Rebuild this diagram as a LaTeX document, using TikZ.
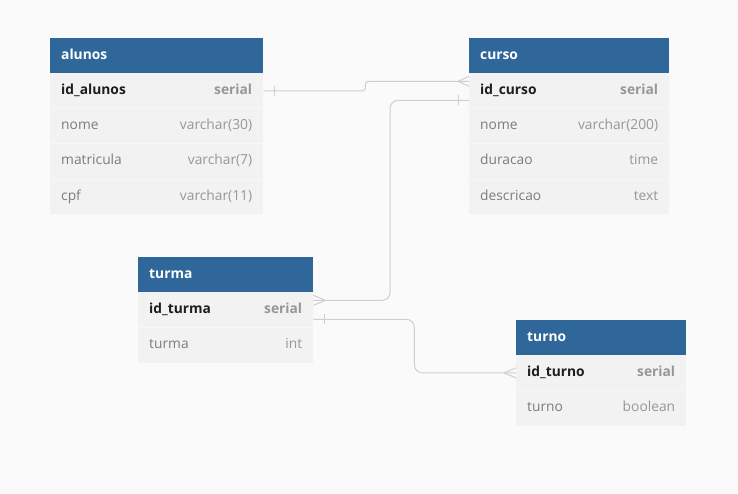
\documentclass[tikz,border=0pt]{standalone}
\usepackage{fontspec}
\setmainfont{Open Sans}
\definecolor{hdrblue}{HTML}{30679A}
\definecolor{rowbg}{HTML}{F2F2F2}
\definecolor{pagebg}{HTML}{FAFAFA}
\definecolor{sepc}{HTML}{F7F7F7}
\definecolor{conncol}{HTML}{CFCFCF}
\definecolor{idcol}{HTML}{1E1E1E}
\definecolor{fcol}{HTML}{7C7C7C}
\definecolor{tcol}{HTML}{979797}
\tikzset{
  hdr/.style={fill=hdrblue, minimum height=35pt, anchor=north west, inner sep=0pt, draw=none},
  rowbox/.style={fill=rowbg, minimum height=35.3pt, anchor=north west, inner sep=0pt, draw=none},
  htext/.style={text=white, font=\fontsize{13.8}{16}\selectfont\bfseries, inner sep=0pt, anchor=base west},
  idtext/.style={text=idcol, font=\fontsize{13.8}{16}\selectfont\bfseries, inner sep=0pt, anchor=base west},
  ftext/.style={text=fcol, font=\fontsize{13.8}{16}\selectfont, inner sep=0pt, anchor=base west},
  idtype/.style={text=tcol, font=\fontsize{13.8}{16}\selectfont\bfseries, inner sep=0pt, anchor=base east},
  ftype/.style={text=tcol, font=\fontsize{13.8}{16}\selectfont, inner sep=0pt, anchor=base east},
  conn/.style={draw=conncol, line width=1pt},
}
\newcommand\ertable[6]{%
  \node[hdr, minimum width=#4] (#1) at (#2,#3) {};
  \node[htext] at ([xshift=11pt,yshift=-3.4pt]#1.west) {#5};
  \foreach \fld/\ty [count=\i] in {#6} {
    \ifnum\i=1 \def\fst{idtext}\def\snd{idtype}\else\def\fst{ftext}\def\snd{ftype}\fi
    \node[rowbox, minimum width=#4] (#1-\i) at (#2,{#3+35+(\i-1)*35.3}) {};
    \ifnum\i>1 \draw[sepc, line width=0.8pt] (#1-\i.north west) -- (#1-\i.north east);\fi
    \node[\fst] at ([xshift=11pt,yshift=-3.4pt]#1-\i.west) {\fld};
    \node[\snd] at ([xshift=-11pt,yshift=-3.4pt]#1-\i.east) {\ty};
  }
}
\begin{document}
\begin{tikzpicture}[x=1pt,y=-1pt]
\fill[pagebg] (0,0) rectangle (738,493);
\useasboundingbox (0,0) rectangle (738,493);

\ertable{alunos}{50}{38}{213pt}{alunos}{id\_alunos/serial, nome/varchar(30), matricula/varchar(7), cpf/varchar(11)}
\ertable{curso}{469}{38}{200pt}{curso}{id\_curso/serial, nome/varchar(200), duracao/time, descricao/text}
\ertable{turma}{138}{257}{175pt}{turma}{id\_turma/serial, turma/int}
\ertable{turno}{516}{320}{170pt}{turno}{id\_turno/serial, turno/boolean}

% alunos -> curso
\coordinate (c1) at ([yshift=9.5pt]curso-1.west);
\draw[conn, rounded corners=3pt] (alunos-1.east) -- ++(102,0) |- (c1);
\draw[conn] ([xshift=11pt,yshift=-5pt]alunos-1.east) -- ([xshift=11pt,yshift=5pt]alunos-1.east);
\draw[conn] ([xshift=-11pt]c1) -- ([yshift=5pt]c1);
\draw[conn] ([xshift=-11pt]c1) -- ([yshift=-5pt]c1);

% curso -> turma
\coordinate (c2) at ([yshift=-9.5pt]curso-1.west);
\coordinate (t1) at ([yshift=9.5pt]turma-1.east);
\draw[conn, rounded corners=8pt] (c2) -- ++(-79,0) |- (t1);
\draw[conn] ([xshift=-11pt,yshift=-5pt]c2) -- ([xshift=-11pt,yshift=5pt]c2);
\draw[conn] ([xshift=12pt]t1) -- ([yshift=5pt]t1);
\draw[conn] ([xshift=12pt]t1) -- ([yshift=-5pt]t1);

% turma -> turno
\coordinate (t2) at ([yshift=-9.5pt]turma-1.east);
\draw[conn, rounded corners=8pt] (t2) -- ++(101,0) |- (turno-1.west);
\draw[conn] ([xshift=11pt,yshift=-5pt]t2) -- ([xshift=11pt,yshift=5pt]t2);
\draw[conn] ([xshift=-12pt]turno-1.west) -- ([yshift=5pt]turno-1.west);
\draw[conn] ([xshift=-12pt]turno-1.west) -- ([yshift=-5pt]turno-1.west);
\end{tikzpicture}
\end{document}
